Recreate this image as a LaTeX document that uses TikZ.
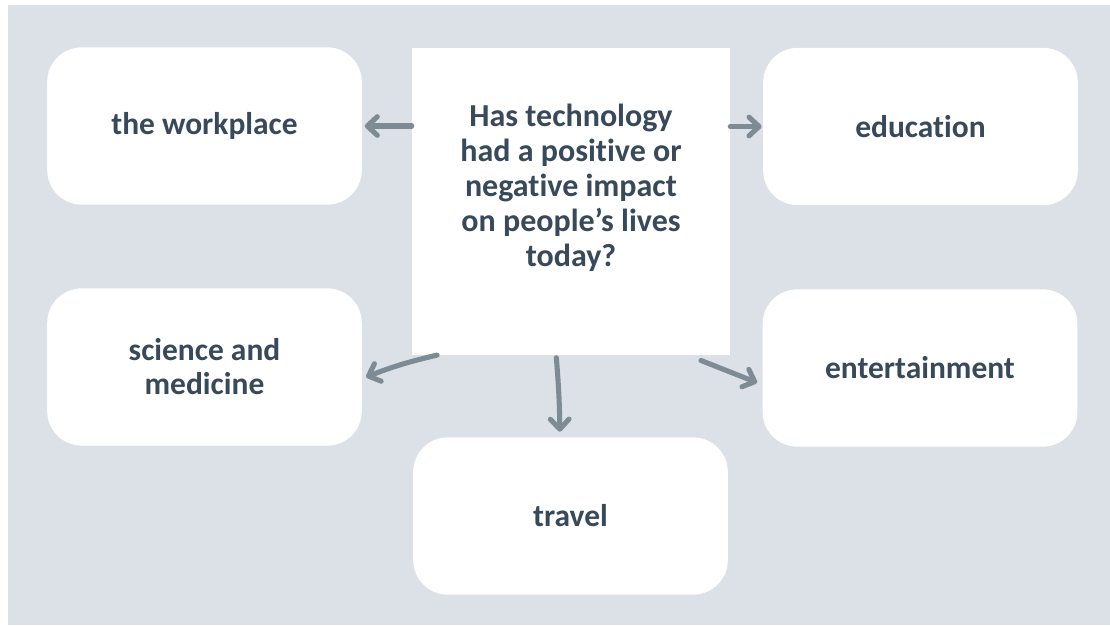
\documentclass[tikz,border=0pt]{standalone}
\usepackage{fontspec}
\setmainfont[Ligatures=NoCommon]{Carlito}
\usetikzlibrary{arrows.meta}
\definecolor{bg}{HTML}{DCE0E7}
\definecolor{txt}{HTML}{37495A}
\definecolor{arr}{HTML}{7E8A94}
\begin{document}
\begin{tikzpicture}[x=0.75pt,y=-0.75pt,
  box/.style={fill=white, rounded corners=26pt, minimum width=236pt, minimum height=118pt,
    inner sep=0pt, align=center, text=txt, font=\bfseries\fontsize{23.6}{25.5}\selectfont},
  qbox/.style={fill=white, minimum width=238.5pt, minimum height=230pt, inner sep=0pt},
  qtext/.style={align=center, text=txt, inner sep=0pt, font=\bfseries\fontsize{24}{26.3}\selectfont},
  link/.style={draw=arr, line width=3.8pt, line cap=round,
    -{Straight Barb[length=7.5pt,width=14pt,line cap=round,line join=round]}}]
\fill[white] (0,0) rectangle (1110,625);
\fill[bg] (8,5) rectangle (1110,625);
\useasboundingbox (0,0) rectangle (1110,625);

\node[qbox] (q) at (571,201.5) {};
\node[qtext] (qt) at (571,188) {Has technology\\had a positive or\\negative impact\\on people’s lives\\today?};

\node[box] (wp) at (204.5,126) {the workplace};
\node[box] (edu) at (920.5,126.5) {education};
\node[box] (sci) at (204.5,367) {science and\\medicine};
\node[box] (ent) at (920,368) {entertainment};
\node[box] (trv) at (570.5,516) {travel};

\draw[link] (q.west |- wp.east) -- ([xshift=2pt]wp.east);
\draw[link] (q.east |- edu.west) -- ([xshift=-1pt]edu.west);
\draw[link] ([xshift=19pt]q.south west) to[bend right=4] ([xshift=3pt,yshift=-7.5pt]sci.east);
\draw[link] ([xshift=-11pt,yshift=-2pt]q.south) to[bend left=2] ([xshift=-8pt,yshift=4pt]trv.north);
\draw[link] ([xshift=-22pt,yshift=-4pt]q.south east) -- ([xshift=-4pt,yshift=-11pt]ent.west);
\end{tikzpicture}
\end{document}
